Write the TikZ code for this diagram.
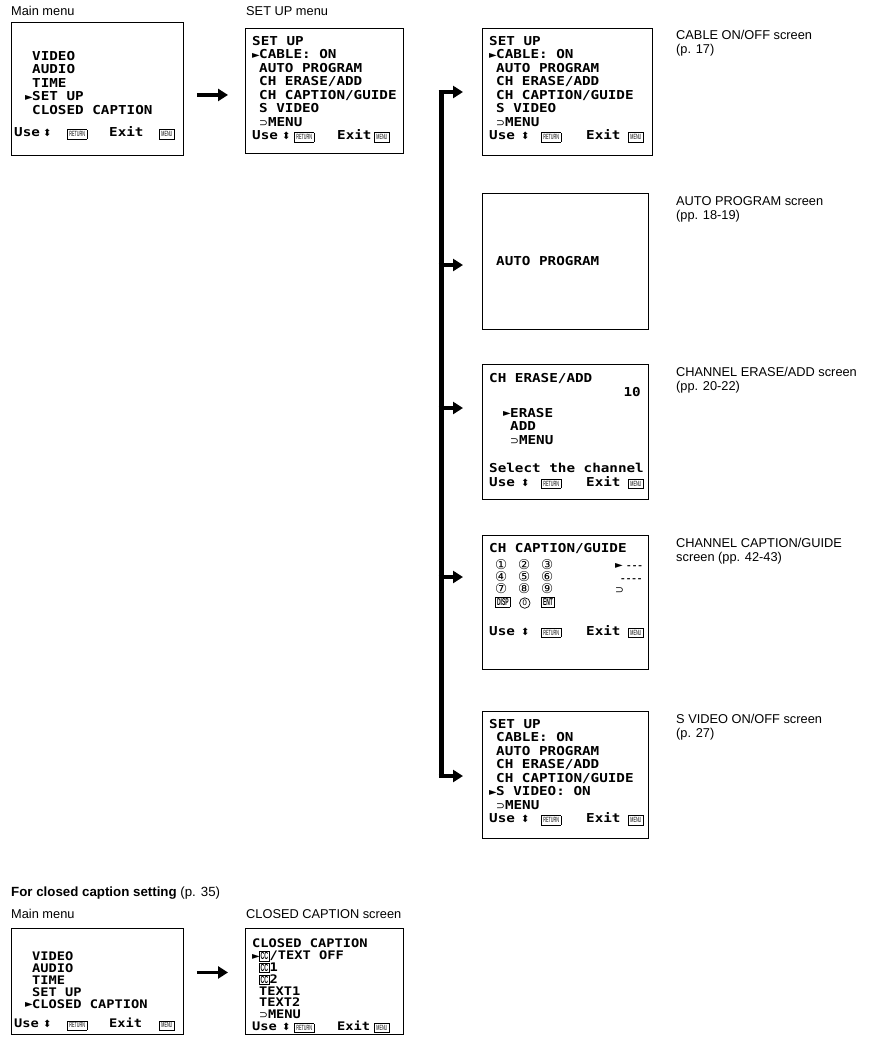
\documentclass[tikz,border=0pt]{standalone}
\usepackage{fontspec}
\setmainfont{Liberation Sans}
\newfontfamily\osdfont[FakeStretch=1.16]{DejaVu Sans Mono Bold}
\newfontfamily\symfont{DejaVu Sans}
\newfontfamily\keyfont[FakeStretch=0.5]{Liberation Sans}
\usetikzlibrary{arrows.meta,positioning}

% on-screen marks
\newcommand\sel{\makebox[7pt][l]{\raisebox{0.6pt}{\symfont\fontsize{10}{10}\selectfont ►}}}
\newcommand\nosel{\hspace*{7pt}}
\newcommand\updn{\makebox[6pt][l]{\symfont\fontsize{10}{10}\selectfont ⬍}}
\newcommand\keycap[1]{{\setlength\fboxsep{1.6pt}\setlength\fboxrule{0.6pt}\fbox{\keyfont\fontsize{7.5}{7.5}\selectfont #1}}}
\newcommand\keybig[1]{{\setlength\fboxsep{1.1pt}\setlength\fboxrule{0.7pt}\fbox{\keyfont\fontsize{10}{10}\selectfont\bfseries #1}}}
\newcommand\ccbox{{\setlength\fboxsep{0.7pt}\setlength\fboxrule{0.7pt}\fbox{\keyfont\fontsize{10.5}{10.5}\selectfont\bfseries CC}}}
\newcommand\backto{{\symfont\fontsize{10.5}{10.5}\selectfont ⊃}}
\newcommand\circzero{\tikz[baseline=(zero.base)]\node[draw,circle,line width=0.7pt,inner sep=0pt,minimum size=10.5pt,font=\symfont\fontsize{7.5}{7.5}\selectfont] (zero) {0};}
% Use/Exit line: widths of the Use, arrow, RETURN and Exit slots
\newcommand\usebar[4]{\makebox[#1][l]{Use}\makebox[#2][l]{\updn}\makebox[#3][l]{\keycap{RETURN}}\makebox[#4][l]{Exit}\keycap{MENU}}

\tikzset{
  screen/.style={draw,line width=0.9pt,anchor=north west,inner sep=0pt},
  osd/.style={font=\osdfont\fontsize{12.3}{13.5}\selectfont,align=left,anchor=north west,inner sep=0pt},
  osdtight/.style={osd,font=\osdfont\fontsize{11.8}{11.8}\selectfont},
  caption/.style={font=\fontsize{12.8}{14}\selectfont,align=left,anchor=north west,inner sep=0pt},
  bigarrow/.style={line width=3.6pt,-{Triangle[length=10pt,width=12pt]}},
  trunk/.style={line width=5pt}
}

\begin{document}
\begin{tikzpicture}[x=1pt,y=-1pt]
  \fill[white] (0,0) rectangle (877,1037);
  \useasboundingbox (0,0) rectangle (877,1037);

  % Main menu and SET UP menu
  \node[caption] (lblMainA) at (11,6) {Main menu};
  \node[screen,minimum width=172,minimum height=133] (mainA) at (11,22) {};
  \node[osd] (mainAtxt) at (14,51)
    {\hspace*{11pt}\nosel VIDEO\\\hspace*{11pt}\nosel AUDIO\\\hspace*{11pt}\nosel TIME\\
     \hspace*{11pt}\sel SET UP\\\hspace*{11pt}\nosel CLOSED CAPTION\\[9pt]\usebar{29pt}{24pt}{42pt}{50pt}};

  \node[caption] (lblSetup) at (246,6) {SET UP menu};
  \node[screen,minimum width=158,minimum height=125] (setupA) at (245,28) {};
  \node[osd] (setupAtxt) at (252,36)
    {SET UP\\\sel CABLE: ON\\\nosel AUTO PROGRAM\\\nosel CH ERASE/ADD\\
     \nosel CH CAPTION/GUIDE\\\nosel S VIDEO\\\nosel\backto MENU\\\usebar{30pt}{12pt}{43pt}{37pt}};

  % Screens reached from SET UP
  \node[screen,minimum width=170,minimum height=127] (cable) at (482,28) {};
  \node[osd] (cabletxt) at (489,36)
    {SET UP\\\sel CABLE: ON\\\nosel AUTO PROGRAM\\\nosel CH ERASE/ADD\\
     \nosel CH CAPTION/GUIDE\\\nosel S VIDEO\\\nosel\backto MENU\\\usebar{32pt}{20pt}{45pt}{42pt}};
  \node[caption] (lblCable) at (676,30) {CABLE ON/OFF screen\\(p. 17)};

  \node[screen,minimum width=166,minimum height=136] (auto) at (482,193) {};
  \node[osd] (autotxt) at (496,256) {AUTO PROGRAM};
  \node[caption] (lblAuto) at (676,196) {AUTO PROGRAM screen\\(pp. 18-19)};

  \node[screen,minimum width=166,minimum height=135] (erase) at (482,364) {};
  \node[osd] (erasetxt) at (489,373) {CH ERASE/ADD};
  \node[osd,anchor=north east] (erasech) at (641,387) {10};
  \node[osd] (eraseopts) at (503,408) {\sel ERASE\\\nosel ADD\\\nosel\backto MENU};
  \node[osd] (erasefoot) at (489,463) {Select the channel\\\usebar{32pt}{20pt}{45pt}{42pt}};
  \node[caption] (lblErase) at (676,367) {CHANNEL ERASE/ADD screen\\(pp. 20-22)};

  \node[screen,minimum width=166,minimum height=134] (guide) at (482,535) {};
  \node[osd] (guidetxt) at (489,543) {CH CAPTION/GUIDE};
  \node[osd,font=\symfont\fontsize{13.5}{12.2}\selectfont] (guidekeys) at (495,559)
    {\makebox[23pt][l]{①}\makebox[23pt][l]{②}③\\
     \makebox[23pt][l]{④}\makebox[23pt][l]{⑤}⑥\\
     \makebox[23pt][l]{⑦}\makebox[23pt][l]{⑧}⑨\\
     \makebox[23pt][l]{\keybig{DISP}}\makebox[23pt][l]{\hspace*{1pt}\circzero}\keybig{ENT}};
  \node[osd,font=\osdfont\fontsize{8}{12.5}\selectfont] (guidemarks) at (615,563)
    {\sel\hspace*{4pt}-{}-{}-\\\hspace*{5pt}-{}-{}-{}-\\\backto};
  \node[osd] (guidefoot) at (489,625) {\usebar{32pt}{20pt}{45pt}{42pt}};
  \node[caption] (lblGuide) at (676,538) {CHANNEL CAPTION/GUIDE\\screen (pp. 42-43)};

  \node[screen,minimum width=166,minimum height=127] (svideo) at (482,711) {};
  \node[osd] (svideotxt) at (489,719)
    {SET UP\\\nosel CABLE: ON\\\nosel AUTO PROGRAM\\\nosel CH ERASE/ADD\\
     \nosel CH CAPTION/GUIDE\\\sel S VIDEO: ON\\\nosel\backto MENU\\\usebar{32pt}{20pt}{45pt}{42pt}};
  \node[caption] (lblSvideo) at (676,714) {S VIDEO ON/OFF screen\\(p. 27)};

  % Closed caption part
  \node[caption,font=\fontsize{13.3}{14}\selectfont] (lblFor) at (11,887) {\textbf{For closed caption setting} (p. 35)};
  \node[caption] (lblMainB) at (11,909) {Main menu};
  \node[screen,minimum width=172,minimum height=106] (mainB) at (11,928) {};
  \node[osdtight] (mainBtxt) at (14,952)
    {\hspace*{11pt}\nosel VIDEO\\\hspace*{11pt}\nosel AUDIO\\\hspace*{11pt}\nosel TIME\\
     \hspace*{11pt}\nosel SET UP\\\hspace*{11pt}\sel CLOSED CAPTION\\[8pt]\usebar{29pt}{24pt}{42pt}{50pt}};

  \node[caption] (lblCC) at (246,909) {CLOSED CAPTION screen};
  \node[screen,minimum width=158,minimum height=106] (ccB) at (245,928) {};
  \node[osdtight] (ccBtxt) at (252,939)
    {CLOSED CAPTION\\\sel\ccbox/TEXT OFF\\\nosel\ccbox 1\\\nosel\ccbox 2\\
     \nosel TEXT1\\\nosel TEXT2\\\nosel\backto MENU\\\usebar{30pt}{12pt}{43pt}{37pt}};

  % Connectors
  \draw[bigarrow,shorten <=13pt,shorten >=17pt] ([yshift=-6pt]mainA.east) -- ([yshift=-6pt]mainA.east -| setupA.west);
  \draw[bigarrow,shorten <=13pt,shorten >=17pt] ([yshift=9pt]mainB.east) -- ([yshift=9pt]mainB.east -| ccB.west);

  \coordinate (bus) at (441,0);
  \foreach \scr/\yy in {cable/92,auto/265,erase/408,guide/577,svideo/776}{
    \coordinate (tap-\scr) at (bus |- 0,\yy);
    \draw[bigarrow,shorten <=-2.5pt,shorten >=19pt] (tap-\scr) -- (tap-\scr -| \scr.west);
  }
  \draw[trunk] ([yshift=1.8pt]tap-cable) -- ([yshift=-1.8pt]tap-svideo);
\end{tikzpicture}
\end{document}
